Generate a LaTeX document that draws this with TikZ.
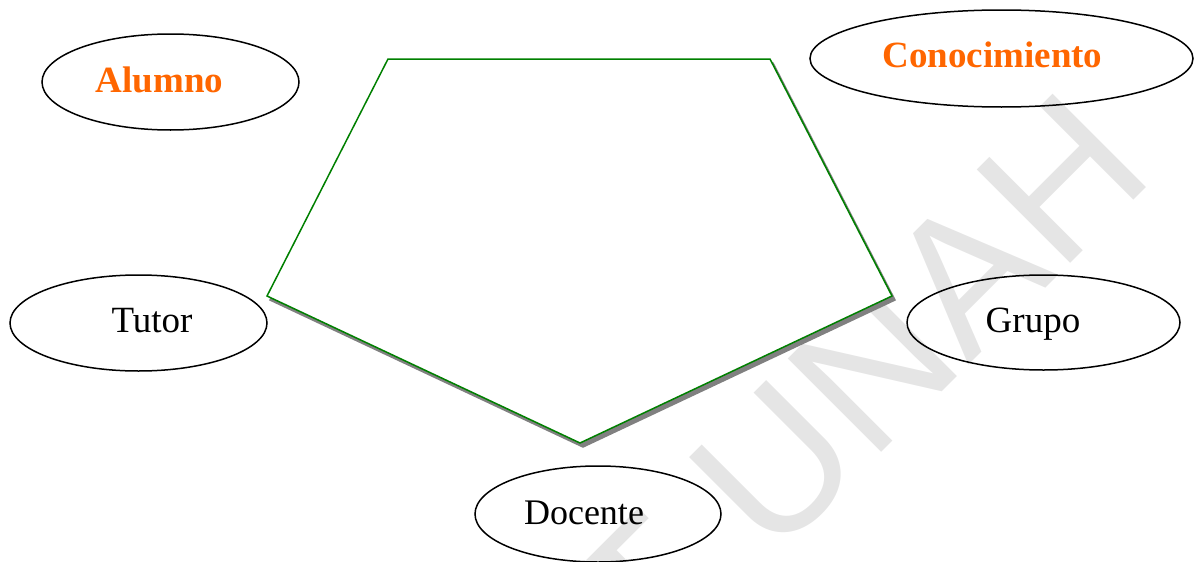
\documentclass[tikz,border=0pt]{standalone}
\usepackage{fontspec}
\setmainfont{Liberation Serif}
\newfontfamily\wmfont{Liberation Sans}
\usetikzlibrary{shapes.geometric}
\definecolor{wmgray}{RGB}{229,229,229}
\definecolor{orangetxt}{RGB}{255,102,0}
\definecolor{pentgreen}{RGB}{0,128,0}
\definecolor{shadowgray}{RGB}{128,128,128}
\tikzset{
  oval/.style={draw=black, line width=1.5pt, ellipse, inner sep=0pt},
  lbl/.style={anchor=base, inner sep=0pt, font=\fontsize{37}{44}\selectfont},
  hilbl/.style={lbl, text=orangetxt, font=\fontsize{37}{44}\selectfont\bfseries},
  watermark/.style={anchor=base west, inner sep=0pt, text=wmgray, rotate=45, font=\wmfont\fontsize{192}{200}\selectfont},
}
\begin{document}
\begin{tikzpicture}[x=1pt, y=-1pt]
\useasboundingbox (0,0) rectangle (1195,562);
% watermark
\node[watermark] (wm) at (652,682) {T UNAH};
% pentagon corners
\coordinate (p1) at (388,59);
\coordinate (p2) at (770,59);
\coordinate (p3) at (892,296);
\coordinate (p4) at (580,443);
\coordinate (p5) at (267,296);
% shadow
\fill[shadowgray, draw=shadowgray, line width=1.5pt] ([shift={(3,4)}]p1) -- ([shift={(3,4)}]p2) -- ([shift={(3,4)}]p3) -- ([shift={(3,4)}]p4) -- ([shift={(3,4)}]p5) -- cycle;
% pentagon
\draw[pentgreen, fill=white, line width=1.5pt, line join=miter] (p1) -- (p2) -- (p3) -- (p4) -- (p5) -- cycle;
% ellipses
\node[oval, minimum width=257pt, minimum height=96pt] (alumno) at (170.5,82) {};
\node[oval, minimum width=383pt, minimum height=97pt] (conoc) at (1001.5,58.5) {};
\node[oval, minimum width=257pt, minimum height=96pt] (tutor) at (138.5,323) {};
\node[oval, minimum width=273pt, minimum height=95pt] (grupo) at (1043.5,322.5) {};
\node[oval, minimum width=246pt, minimum height=96pt] (docente) at (598,514) {};
% labels
\node[hilbl] (alumnoL) at (159.5,92) {Alumno};
\node[hilbl] (conocL) at (992.5,67) {Conocimiento};
\node[lbl] (tutorL) at (152,332) {Tutor};
\node[lbl] (grupoL) at (1033,332) {Grupo};
\node[lbl, font=\fontsize{36}{43}\selectfont] (docenteL) at (584,524) {Docente};
\end{tikzpicture}
\end{document}
